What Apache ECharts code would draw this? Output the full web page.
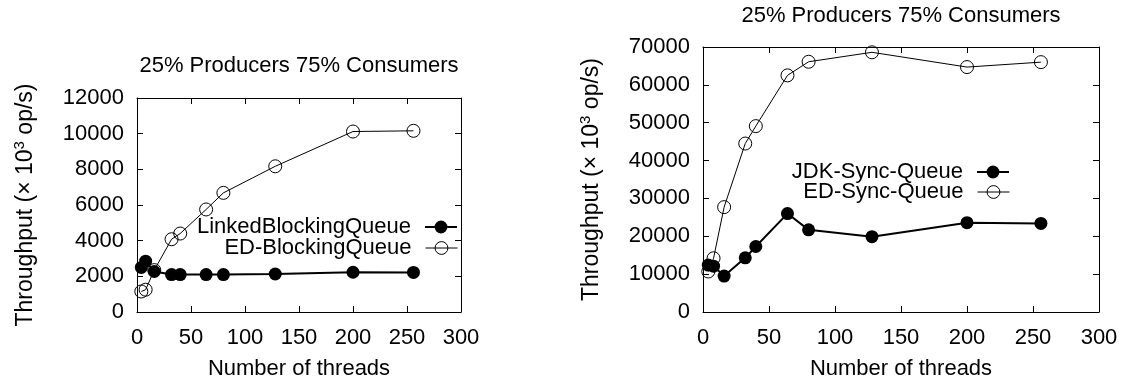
<!DOCTYPE html>
<html><head><meta charset="utf-8">
<script src="https://cdn.jsdelivr.net/npm/echarts@6/dist/echarts.min.js"></script>
<style>html,body{margin:0;padding:0;background:#fff}#c{width:1133px;height:385px}</style>
</head><body><div id="c"></div>
<script>
// ---- data ----
const threads = [4, 8, 16, 32, 40, 64, 80, 128, 200, 256];
const xTicks = [0, 50, 100, 150, 200, 250, 300];
const leftYTicks = [0, 2000, 4000, 6000, 8000, 10000, 12000];
const rightYTicks = [0, 10000, 20000, 30000, 40000, 50000, 60000, 70000];
const titleText = '25% Producers 75% Consumers';
const xName = 'Number of threads';
const leftNames = ['LinkedBlockingQueue', 'ED-BlockingQueue'];
const rightNames = ['JDK-Sync-Queue', 'ED-Sync-Queue'];
const linkedBlockingQueue = [2500, 2850, 2270, 2100, 2100, 2100, 2100, 2130, 2230, 2220];
const edBlockingQueue = [1150, 1250, 2350, 4080, 4400, 5750, 6680, 8170, 10120, 10160];
const jdkSyncQueue = [12400, 12100, 9500, 14300, 17300, 26000, 21700, 19900, 23600, 23400];
const edSyncQueue = [10700, 14200, 27700, 44500, 49100, 62500, 66100, 68600, 64700, 66000];

// ---- styling ----
const FONT = 'Liberation Sans, Arial, sans-serif';
const FS = 22;
const black = '#000';

function pairs(xs, ys) { return xs.map((x, i) => [x, ys[i]]); }
function rng(t) { return { min: t[0], max: t[t.length - 1], interval: t[1] - t[0] }; }
const plain = v => String(v);

const yName = 'Throughput (\u00d7 10{sup|3} op/s)';
const nameStyle = {
  fontFamily: FONT, fontSize: 23, color: black,
  rich: { sup: { fontFamily: FONT, fontSize: 15, color: black, padding: [0, 0, 12, 0] } }
};

function xAxes(gi) {
  const r = rng(xTicks);
  return [
    { gridIndex: gi, type: 'value', position: 'bottom', ...r,
      name: xName, nameLocation: 'middle', nameGap: 46,
      nameTextStyle: { fontFamily: FONT, fontSize: FS, color: black },
      axisLine: { show: true, onZero: false, lineStyle: { color: black, width: 1 } },
      axisTick: { show: true, inside: true, length: 6, lineStyle: { color: black } },
      axisLabel: { show: true, margin: 15, fontFamily: FONT, fontSize: FS, color: black, formatter: plain },
      splitLine: { show: false } },
    { gridIndex: gi, type: 'value', position: 'top', ...r,
      axisLine: { show: true, onZero: false, lineStyle: { color: black, width: 1 } },
      axisTick: { show: true, inside: true, length: 6, lineStyle: { color: black } },
      axisLabel: { show: false }, splitLine: { show: false } }
  ];
}
function yAxes(gi, ticks) {
  const r = rng(ticks);
  return [
    { gridIndex: gi, type: 'value', position: 'left', ...r,
      name: yName, nameLocation: 'middle', nameGap: 98, nameRotate: 90,
      nameTextStyle: nameStyle,
      axisLine: { show: true, onZero: false, lineStyle: { color: black, width: 1 } },
      axisTick: { show: true, inside: true, length: 6, lineStyle: { color: black } },
      axisLabel: { show: true, margin: 13, fontFamily: FONT, fontSize: FS, color: black, formatter: plain },
      splitLine: { show: false } },
    { gridIndex: gi, type: 'value', position: 'right', ...r,
      axisLine: { show: true, onZero: false, lineStyle: { color: black, width: 1 } },
      axisTick: { show: true, inside: true, length: 6, lineStyle: { color: black } },
      axisLabel: { show: false }, splitLine: { show: false } }
  ];
}
function filledSeries(name, xi, yi, ys) {
  return { name, type: 'line', xAxisIndex: xi, yAxisIndex: yi, data: pairs(threads, ys),
    symbol: 'circle', symbolSize: 13, z: 4,
    itemStyle: { color: black },
    lineStyle: { color: black, width: 2 } };
}
function openSeries(name, xi, yi, ys) {
  return { name, type: 'line', xAxisIndex: xi, yAxisIndex: yi, data: pairs(threads, ys),
    symbol: 'circle', symbolSize: 13, z: 3,
    itemStyle: { color: 'rgba(0,0,0,0)', borderColor: black, borderWidth: 1 },
    lineStyle: { color: black, width: 1 } };
}
function legend(name, right, top, lw, open) {
  return { data: [name], orient: 'vertical', right, top, align: 'right', padding: 0,
    itemWidth: 32, itemHeight: 16, selectedMode: false,
    lineStyle: { width: lw, color: black },
    itemStyle: open ? { color: 'rgba(0,0,0,0)', borderColor: black, borderWidth: 1 }
                    : { color: black, borderWidth: 0 },
    textStyle: { fontFamily: FONT, fontSize: FS, color: black, padding: [0, 9, 0, 0] } };
}

const option = {
  animation: false,
  backgroundColor: '#fff',
  title: [
    { text: titleText, left: 299, top: 55, textAlign: 'center', padding: 0,
      textStyle: { fontFamily: FONT, fontSize: FS, fontWeight: 'normal', color: black } },
    { text: titleText, left: 901, top: 5, textAlign: 'center', padding: 0,
      textStyle: { fontFamily: FONT, fontSize: FS, fontWeight: 'normal', color: black } }
  ],
  grid: [
    { left: 137, top: 98, width: 324, height: 215 },
    { left: 703, top: 47, width: 396, height: 267 }
  ],
  xAxis: [...xAxes(0), ...xAxes(1)],
  yAxis: [...yAxes(0, leftYTicks), ...yAxes(1, rightYTicks)],
  legend: [
    legend(leftNames[0], 1133 - 458, 216, 2, false),
    legend(leftNames[1], 1133 - 458, 237, 1, true),
    legend(rightNames[0], 1133 - 1010, 161, 2, false),
    legend(rightNames[1], 1133 - 1010, 181, 1, true)
  ],
  series: [
    filledSeries(leftNames[0], 0, 0, linkedBlockingQueue),
    openSeries(leftNames[1], 0, 0, edBlockingQueue),
    filledSeries(rightNames[0], 2, 2, jdkSyncQueue),
    openSeries(rightNames[1], 2, 2, edSyncQueue)
  ]
};
const chart = echarts.init(document.getElementById('c'), null, { renderer: 'canvas' });
chart.setOption(option);
</script></body></html>
